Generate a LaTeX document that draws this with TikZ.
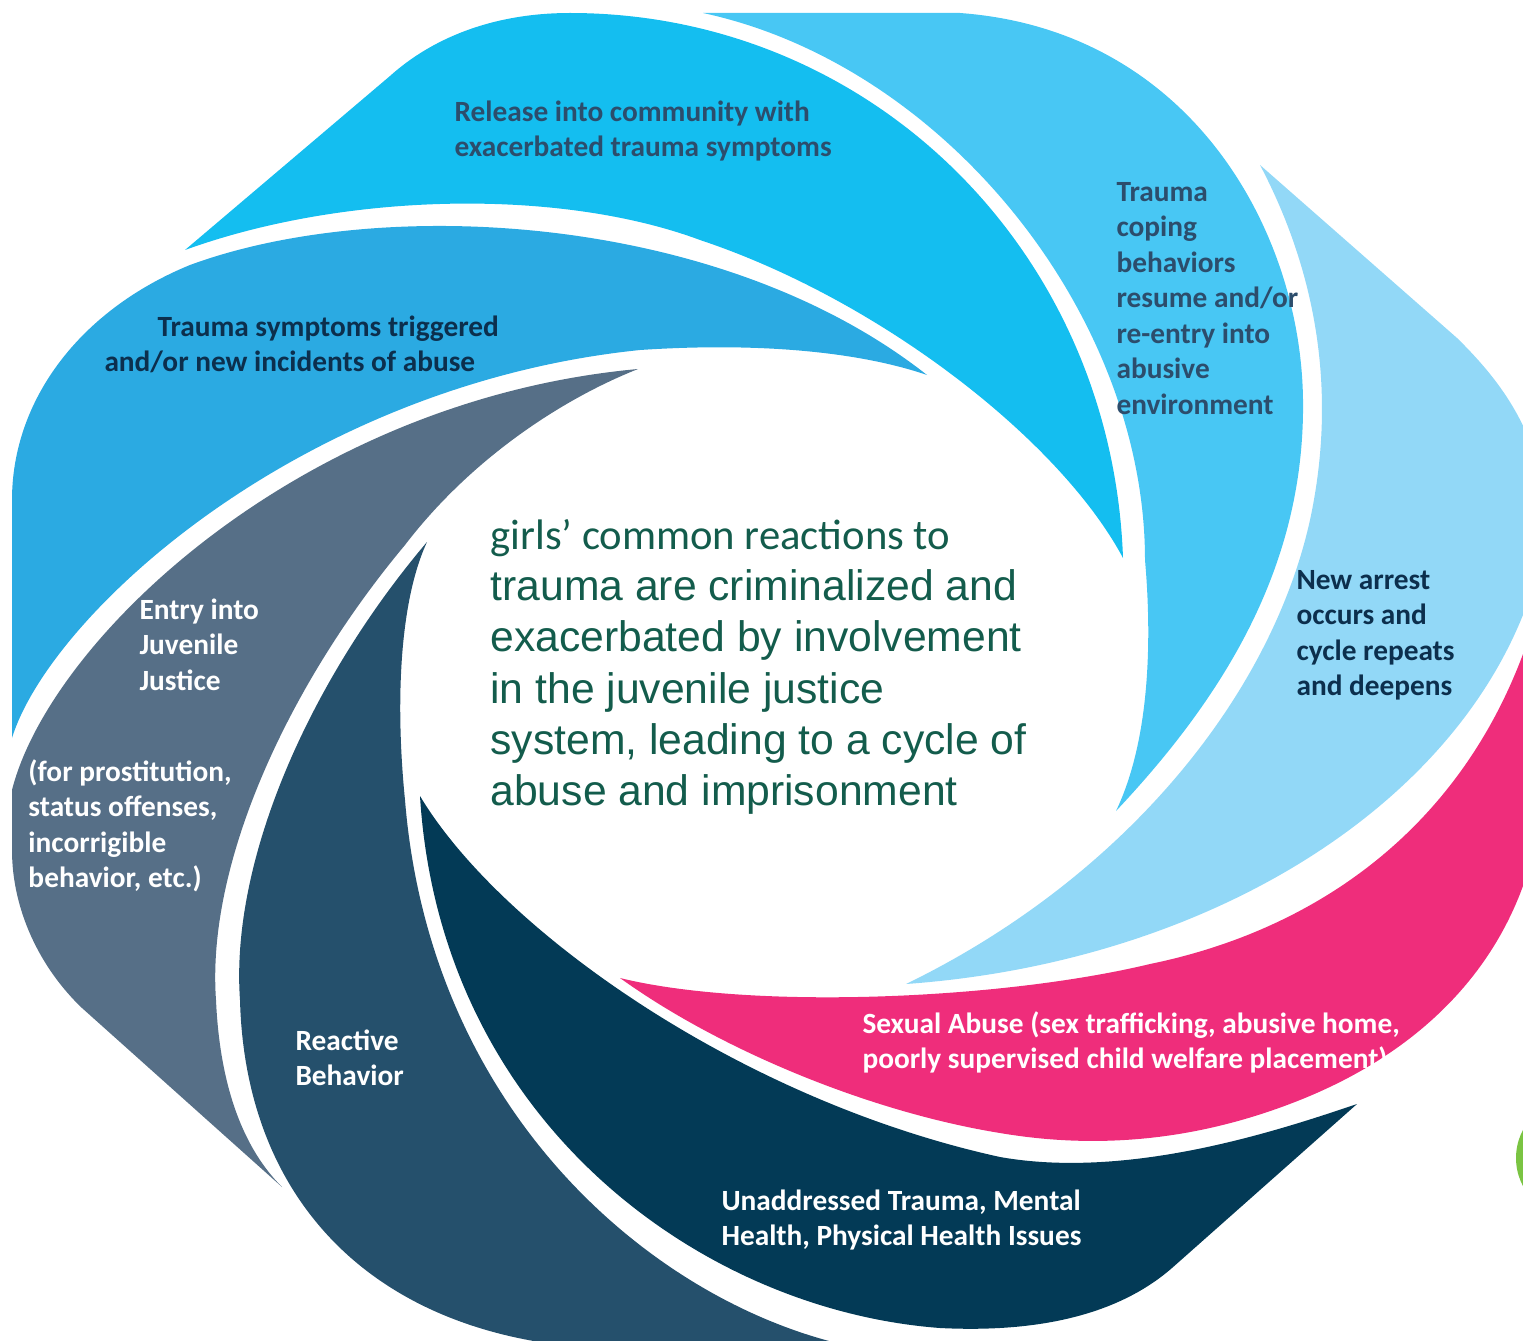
\documentclass[tikz,border=0pt]{standalone}
\usepackage{fontspec}
\newfontfamily\calfont{Carlito}
\newfontfamily\arialfont{Liberation Sans}

\tikzset{every picture/.style={line width=0.75pt}}
\tikzset{blade/.style={draw opacity=0, fill opacity=1},
  blade label/.style={anchor=north west, inner sep=0.75pt, align=left, font=\calfont\bfseries\fontsize{22}{26.6}\selectfont}}

\begin{document}
\begin{tikzpicture}[x=0.75pt,y=0.75pt,yscale=-1,xscale=1]
\useasboundingbox (0,0) rectangle (1523,1341);
\clip (0,0) rectangle (1523,1341);

%Shape: Polygon Curved [release]
\draw [blade, fill={rgb, 255:red, 20; green, 190; blue, 240 }] (185,250) -- (390,76) .. controls (430,40) and (490,13) .. (570,13) .. controls (870,13) and (1112,250) .. (1123,558) .. controls (1060,440) and (880,300) .. (700,240) .. controls (560,188) and (345,192) .. (185,250) -- cycle ;
%Shape: Polygon Curved [coping]
\draw [blade, fill={rgb, 255:red, 72; green, 199; blue, 244 }] (703,13) -- (960,13) .. controls (1190,30) and (1301,230) .. (1303,400) .. controls (1305,560) and (1230,690) .. (1116,811) .. controls (1150,740) and (1152,640) .. (1145,560) .. controls (1145,315) and (945,65) .. (703,13) -- cycle ;
%Shape: Polygon Curved [arrest]
\draw [blade, fill={rgb, 255:red, 146; green, 216; blue, 247 }] (1260,165) -- (1457,338) .. controls (1510,390) and (1540,440) .. (1548,520) .. controls (1515,770) and (1240,960) .. (906,984) .. controls (1120,880) and (1270,700) .. (1310,520) .. controls (1340,380) and (1310,260) .. (1260,165) -- cycle ;
%Shape: Polygon Curved [abuse]
\draw [blade, fill={rgb, 255:red, 239; green, 45; blue, 123 }] (1545,580) -- (1542,800) .. controls (1530,930) and (1450,1040) .. (1300,1100) .. controls (1200,1140) and (1100,1150) .. (1000,1133) .. controls (870,1112) and (720,1050) .. (620,978) .. controls (750,1010) and (1000,1000) .. (1150,964) .. controls (1340,925) and (1495,800) .. (1545,580) -- cycle ;
%Shape: Polygon Curved [unaddressed]
\draw [blade, fill={rgb, 255:red, 3; green, 58; blue, 86 }] (1357,1104) -- (1172,1268) .. controls (1110,1322) and (1020,1332) .. (940,1328) .. controls (700,1310) and (440,1120) .. (420,796) .. controls (500,930) and (740,1100) .. (1000,1157) .. controls (1130,1180) and (1280,1130) .. (1357,1104) -- cycle ;
%Shape: Polygon Curved [reactive]
\draw [blade, fill={rgb, 255:red, 37; green, 80; blue, 108 }] (427,542) .. controls (310,680) and (230,860) .. (240,1000) .. controls (245,1190) and (360,1320) .. (560,1345) -- (845,1345) .. controls (650,1300) and (430,1110) .. (405,800) .. controls (395,700) and (400,600) .. (427,542) -- cycle ;
%Shape: Polygon Curved [entry]
\draw [blade, fill={rgb, 255:red, 86; green, 111; blue, 135 }] (282,1187) -- (82,1008) .. controls (40,968) and (12,910) .. (12,850) -- (12,790) .. controls (50,640) and (300,400) .. (638,369) .. controls (560,400) and (470,460) .. (405,545) .. controls (292,680) and (206,860) .. (216,1000) .. controls (220,1090) and (245,1150) .. (282,1187) -- cycle ;
%Shape: Polygon Curved [triggered]
\draw [blade, fill={rgb, 255:red, 43; green, 170; blue, 226 }] (12,738) -- (12,500) .. controls (12,400) and (80,310) .. (190,265) .. controls (380,195) and (720,212) .. (927,375) .. controls (860,352) and (760,342) .. (640,350) .. controls (300,385) and (50,615) .. (12,738) -- cycle ;
%Shape: Circle [green]
\draw [blade, fill={rgb, 255:red, 122; green, 196; blue, 66 }] (1576,1158) circle (60) ;

% Text Node
\draw (453,99) node [blade label, color={rgb, 255:red, 44; green, 77; blue, 108 }] (release) {Release into community with\\exacerbated trauma symptoms};
% Text Node
\draw (1115,181) node [blade label, color={rgb, 255:red, 44; green, 77; blue, 108 }] (coping) {Trauma\\coping\\behaviors\\resume and/or\\re-entry into\\abusive\\environment};
% Text Node
\draw (1295,569) node [blade label, color={rgb, 255:red, 12; green, 47; blue, 77 }] (arrest) {New arrest\\occurs and\\cycle repeats\\and deepens};
% Text Node
\draw (861,1010) node [blade label, color={rgb, 255:red, 255; green, 255; blue, 255 }] (abuse) {Sexual Abuse (sex trafficking, abusive home,\\poorly supervised child welfare placement)};
% Text Node
\draw (720,1188) node [blade label, color={rgb, 255:red, 255; green, 255; blue, 255 }] (unaddressed) {Unaddressed Trauma, Mental\\Health, Physical Health Issues};
% Text Node
\draw (294,1028) node [blade label, color={rgb, 255:red, 255; green, 255; blue, 255 }] (reactive) {Reactive\\Behavior};
% Text Node
\draw (138,597) node [blade label, color={rgb, 255:red, 255; green, 255; blue, 255 }] (entry) {Entry into\\Juvenile\\Justice};
% Text Node
\draw (27,758) node [blade label, color={rgb, 255:red, 255; green, 255; blue, 255 }] (entrynote) {(for prostitution,\\status offenses,\\incorrigible\\behavior, etc.)};
% Text Node
\draw (103,314) node [blade label, color={rgb, 255:red, 12; green, 47; blue, 77 }] (triggered) {\hspace*{39.75pt}Trauma symptoms triggered\\and/or new incidents of abuse};
% Text Node
\draw (489,518) node [anchor=north west][inner sep=0.75pt] [font=\arialfont\fontsize{32}{38.4}\selectfont, color={rgb, 255:red, 19; green, 92; blue, 76 }, align=left] (centre) {{\calfont girls’ common reactions to}\\trauma are criminalized and\\exacerbated by involvement\\in the juvenile justice\\system, leading to a cycle of\\abuse and imprisonment};

\end{tikzpicture}
\end{document}
